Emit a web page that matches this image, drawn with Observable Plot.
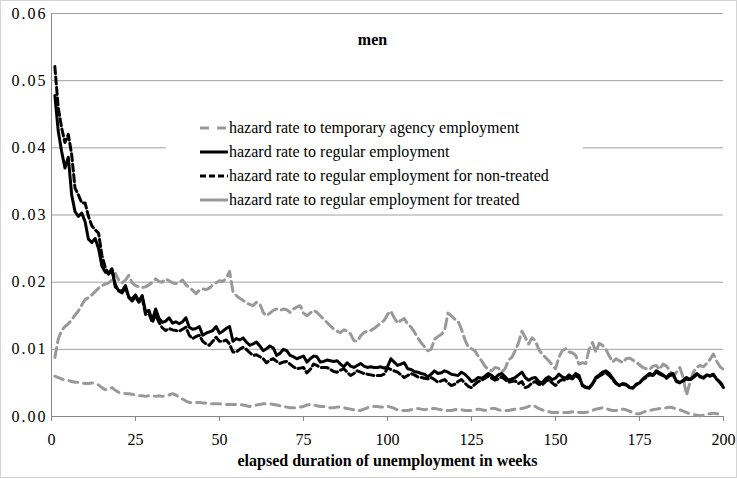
<!DOCTYPE html>
<html><head><meta charset="utf-8">
<script src="https://cdn.jsdelivr.net/npm/d3@7"></script>
<script src="https://cdn.jsdelivr.net/npm/@observablehq/plot@0.6"></script>
<style>
body{margin:0;background:#fff;}
#wrap{position:relative;width:737px;height:478px;font-family:"Liberation Serif","Times New Roman",serif;overflow:hidden}
#frame{position:absolute;left:0;top:0;width:735px;height:476px;border:1px solid #d4d4d4;pointer-events:none}
#legend{position:absolute;left:166px;top:110px;width:417px;height:100px;background:#fff;font-size:16px;color:#000}
.row{position:absolute;left:34px;height:24px;display:flex;align-items:center;white-space:nowrap}
.row svg{display:block;margin-right:1px}
g[aria-label="y-axis tick label"] text{letter-spacing:2px}
</style></head>
<body>
<div id="wrap"><div id="chart"></div><div id="legend"></div><div id="frame"></div></div>
<script>
const xTicks = [0, 25, 50, 75, 100, 125, 150, 175, 200];
const yTicks = [0, 0.01, 0.02, 0.03, 0.04, 0.05, 0.06];
const title = "men";
const xLabel = "elapsed duration of unemployment in weeks";
const seriesNames = [
  "hazard rate to temporary agency employment",
  "hazard rate to regular employment",
  "hazard rate to regular employment for non-treated",
  "hazard rate to regular employment for treated"
];
const weeks = d3.range(1, 201);

const tempAgency = [
0.0088,0.0115,0.0128,0.0134,0.0138,0.0144,0.0151,0.0157,0.0166,0.0174,
0.0177,0.0181,0.0186,0.0191,0.0195,0.0197,0.0199,0.0203,0.0213,0.0203,
0.0199,0.0203,0.0210,0.0199,0.0195,0.0193,0.0192,0.0193,0.0196,0.0200,
0.0205,0.0201,0.0200,0.0205,0.0202,0.0199,0.0198,0.0200,0.0203,0.0196,
0.0192,0.0188,0.0183,0.0188,0.0190,0.0189,0.0191,0.0196,0.0199,0.0202,
0.0201,0.0206,0.0216,0.0186,0.0180,0.0176,0.0173,0.0169,0.0167,0.0165,
0.0170,0.0168,0.0155,0.0150,0.0154,0.0158,0.0160,0.0158,0.0160,0.0159,
0.0155,0.0160,0.0163,0.0165,0.0154,0.0150,0.0154,0.0158,0.0155,0.0150,
0.0145,0.0140,0.0135,0.0130,0.0127,0.0125,0.0129,0.0127,0.0123,0.0113,
0.0112,0.0120,0.0125,0.0127,0.0128,0.0131,0.0135,0.0139,0.0143,0.0152,
0.0157,0.0147,0.0139,0.0143,0.0146,0.0138,0.0133,0.0126,0.0117,0.0110,
0.0104,0.0098,0.0100,0.0115,0.0119,0.0122,0.0128,0.0154,0.0150,0.0145,
0.0142,0.0130,0.0115,0.0104,0.0101,0.0098,0.0090,0.0083,0.0075,0.0070,
0.0068,0.0073,0.0072,0.0066,0.0071,0.0084,0.0088,0.0098,0.0110,0.0127,
0.0118,0.0108,0.0117,0.0113,0.0100,0.0093,0.0088,0.0083,0.0077,0.0071,
0.0088,0.0098,0.0101,0.0096,0.0095,0.0091,0.0078,0.0080,0.0079,0.0100,
0.0110,0.0096,0.0109,0.0106,0.0100,0.0090,0.0081,0.0086,0.0083,0.0080,
0.0086,0.0087,0.0084,0.0081,0.0077,0.0073,0.0071,0.0070,0.0075,0.0076,
0.0070,0.0078,0.0075,0.0069,0.0060,0.0066,0.0073,0.0058,0.0032,0.0050,
0.0066,0.0073,0.0076,0.0074,0.0079,0.0085,0.0093,0.0082,0.0074,0.0070
];

const regular = [
0.0478,0.0425,0.0395,0.0370,0.0386,0.0330,0.0305,0.0298,0.0303,0.0290,
0.0264,0.0259,0.0265,0.0250,0.0224,0.0215,0.0213,0.0220,0.0193,0.0188,
0.0186,0.0195,0.0178,0.0175,0.0181,0.0172,0.0180,0.0156,0.0158,0.0143,
0.0160,0.0146,0.0140,0.0142,0.0147,0.0139,0.0141,0.0138,0.0141,0.0147,
0.0133,0.0130,0.0131,0.0134,0.0121,0.0124,0.0126,0.0128,0.0134,0.0124,
0.0127,0.0131,0.0134,0.0112,0.0116,0.0114,0.0117,0.0111,0.0106,0.0108,
0.0111,0.0105,0.0098,0.0101,0.0105,0.0102,0.0091,0.0094,0.0100,0.0098,
0.0091,0.0089,0.0086,0.0088,0.0090,0.0081,0.0086,0.0090,0.0089,0.0081,
0.0082,0.0084,0.0083,0.0082,0.0083,0.0078,0.0074,0.0080,0.0075,0.0073,
0.0076,0.0079,0.0075,0.0073,0.0074,0.0073,0.0073,0.0074,0.0072,0.0074,
0.0086,0.0081,0.0076,0.0078,0.0080,0.0071,0.0070,0.0067,0.0066,0.0064,
0.0063,0.0059,0.0063,0.0068,0.0064,0.0065,0.0068,0.0066,0.0063,0.0062,
0.0061,0.0066,0.0063,0.0058,0.0052,0.0054,0.0058,0.0057,0.0060,0.0064,
0.0061,0.0057,0.0062,0.0064,0.0059,0.0054,0.0056,0.0058,0.0062,0.0066,
0.0058,0.0054,0.0057,0.0058,0.0052,0.0050,0.0056,0.0059,0.0055,0.0057,
0.0063,0.0059,0.0057,0.0062,0.0058,0.0064,0.0061,0.0046,0.0043,0.0042,
0.0048,0.0058,0.0062,0.0066,0.0068,0.0064,0.0057,0.0050,0.0046,0.0049,
0.0048,0.0043,0.0042,0.0048,0.0050,0.0056,0.0060,0.0064,0.0062,0.0068,
0.0065,0.0062,0.0058,0.0063,0.0064,0.0052,0.0050,0.0054,0.0058,0.0055,
0.0059,0.0064,0.0060,0.0058,0.0062,0.0061,0.0063,0.0055,0.0050,0.0043
];

const nonTreated = [
0.0521,0.0460,0.0430,0.0408,0.0420,0.0390,0.0340,0.0330,0.0318,0.0318,
0.0298,0.0284,0.0278,0.0273,0.0240,0.0222,0.0212,0.0218,0.0196,0.0187,
0.0184,0.0192,0.0177,0.0172,0.0178,0.0170,0.0176,0.0152,0.0153,0.0140,
0.0152,0.0140,0.0132,0.0128,0.0131,0.0129,0.0128,0.0127,0.0130,0.0133,
0.0121,0.0116,0.0119,0.0121,0.0112,0.0108,0.0106,0.0112,0.0118,0.0112,
0.0112,0.0114,0.0108,0.0096,0.0096,0.0100,0.0103,0.0100,0.0095,0.0091,
0.0092,0.0089,0.0086,0.0080,0.0084,0.0086,0.0082,0.0079,0.0081,0.0082,
0.0078,0.0074,0.0071,0.0072,0.0073,0.0065,0.0070,0.0078,0.0076,0.0073,
0.0073,0.0073,0.0070,0.0067,0.0066,0.0069,0.0071,0.0066,0.0061,0.0064,
0.0068,0.0066,0.0064,0.0063,0.0062,0.0061,0.0061,0.0061,0.0063,0.0072,
0.0070,0.0068,0.0066,0.0062,0.0058,0.0061,0.0064,0.0062,0.0059,0.0058,
0.0057,0.0056,0.0058,0.0055,0.0051,0.0053,0.0055,0.0050,0.0046,0.0048,
0.0052,0.0055,0.0050,0.0045,0.0043,0.0048,0.0052,0.0054,0.0057,0.0060,
0.0057,0.0054,0.0056,0.0059,0.0055,0.0051,0.0052,0.0053,0.0049,0.0052,
0.0043,0.0045,0.0050,0.0052,0.0048,0.0047,0.0052,0.0055,0.0050,0.0046,
0.0052,0.0055,0.0054,0.0058,0.0056,0.0060,0.0058,0.0047,0.0044,0.0043,
0.0049,0.0056,0.0060,0.0063,0.0065,0.0061,0.0055,0.0049,0.0046,0.0048,
0.0047,0.0044,0.0043,0.0047,0.0050,0.0055,0.0058,0.0062,0.0061,0.0066,
0.0063,0.0061,0.0057,0.0061,0.0062,0.0053,0.0051,0.0053,0.0056,0.0054,
0.0058,0.0062,0.0059,0.0057,0.0061,0.0060,0.0062,0.0056,0.0051,0.0045
];

const treated = [
0.0060,0.0058,0.0056,0.0054,0.0054,0.0052,0.0051,0.0051,0.0050,0.0049,
0.0049,0.0050,0.0049,0.0047,0.0043,0.0040,0.0041,0.0043,0.0039,0.0036,
0.0035,0.0034,0.0034,0.0033,0.0032,0.0031,0.0031,0.0030,0.0031,0.0031,
0.0030,0.0031,0.0030,0.0031,0.0032,0.0034,0.0032,0.0029,0.0026,0.0023,
0.0021,0.0021,0.0021,0.0021,0.0020,0.0020,0.0019,0.0019,0.0019,0.0019,
0.0018,0.0018,0.0018,0.0018,0.0018,0.0018,0.0017,0.0016,0.0015,0.0016,
0.0017,0.0018,0.0019,0.0019,0.0019,0.0018,0.0017,0.0016,0.0015,0.0014,
0.0013,0.0013,0.0013,0.0014,0.0015,0.0017,0.0018,0.0017,0.0016,0.0015,
0.0015,0.0014,0.0013,0.0013,0.0014,0.0014,0.0013,0.0012,0.0011,0.0010,
0.0009,0.0009,0.0011,0.0013,0.0015,0.0015,0.0015,0.0014,0.0014,0.0015,
0.0014,0.0012,0.0010,0.0009,0.0009,0.0009,0.0010,0.0011,0.0012,0.0011,
0.0010,0.0011,0.0012,0.0012,0.0011,0.0010,0.0009,0.0009,0.0009,0.0010,
0.0011,0.0010,0.0009,0.0009,0.0009,0.0010,0.0011,0.0010,0.0009,0.0010,
0.0012,0.0012,0.0010,0.0009,0.0009,0.0009,0.0010,0.0011,0.0012,0.0012,
0.0013,0.0015,0.0017,0.0015,0.0012,0.0010,0.0008,0.0007,0.0006,0.0006,
0.0006,0.0006,0.0006,0.0006,0.0007,0.0007,0.0006,0.0006,0.0006,0.0007,
0.0009,0.0011,0.0012,0.0013,0.0012,0.0010,0.0009,0.0009,0.0010,0.0011,
0.0010,0.0008,0.0006,0.0004,0.0004,0.0006,0.0008,0.0009,0.0010,0.0011,
0.0012,0.0012,0.0013,0.0014,0.0013,0.0011,0.0010,0.0008,0.0006,0.0004,
0.0003,0.0002,0.0001,0.0002,0.0004,0.0004,0.0005,0.0004,0.0004,0.0003
];

const gray = "#999999";
// styles of the drawn curves
const lineStyles = [
  {stroke: gray, strokeWidth: 3, strokeDasharray: "10,5"},
  {stroke: "#000", strokeWidth: 3},
  {stroke: "#000", strokeWidth: 3, strokeDasharray: "7,3.5"},
  {stroke: gray, strokeWidth: 3, strokeDasharray: "9,6"}
];
// styles of the legend swatches (as printed in the original)
const swatchStyles = [
  {stroke: gray, strokeWidth: 3, strokeDasharray: "9,8"},
  {stroke: "#000", strokeWidth: 3},
  {stroke: "#000", strokeWidth: 3, strokeDasharray: "6,3"},
  {stroke: gray, strokeWidth: 3}
];
const allSeries = [tempAgency, regular, nonTreated, treated];
const tables = allSeries.map(vals => weeks.map((w, i) => ({week: w, rate: vals[i]})));

const chart = Plot.plot({
  width: 737, height: 478,
  marginLeft: 51, marginRight: 14, marginTop: 13, marginBottom: 62,
  style: {fontFamily: '"Liberation Serif", "Times New Roman", serif', fontSize: "16px", color: "#000", background: "transparent"},
  x: {domain: [0, 200], label: null},
  y: {domain: [0, 0.06], label: null},
  marks: [
    Plot.gridY(yTicks.slice(1), {stroke: "#a0a0a0", strokeOpacity: 1}),
    Plot.ruleX([0], {stroke: "#888"}),
    Plot.ruleY([0], {stroke: "#888"}),
    Plot.axisX(xTicks, {tickSize: 5, tickPadding: 12, stroke: "#888", fill: "#000", label: null, fontSize: 16}),
    Plot.axisY(yTicks, {tickSize: 0, tickPadding: 4, tickFormat: d => d.toFixed(2), label: null, fontSize: 16, fill: "#000"}),
    ...tables.map((t, i) => Plot.line(t, {x: "week", y: "rate", ...lineStyles[i], strokeLinejoin: "round"})),
    Plot.text([title], {frameAnchor: "top", dx: -15, dy: 20, fontWeight: "bold", fontSize: 16}),
    Plot.text([xLabel], {frameAnchor: "bottom", dy: 49, fontWeight: "bold", fontSize: 16})
  ]
});
document.getElementById("chart").appendChild(chart);

const legend = document.getElementById("legend");
seriesNames.forEach((name, i) => {
  const row = document.createElement("div");
  row.className = "row";
  row.style.top = (6 + i * 24) + "px";
  const s = swatchStyles[i];
  row.innerHTML = `<svg width="28" height="10"><line x1="0" x2="28" y1="5" y2="5" stroke="${s.stroke}" stroke-width="${s.strokeWidth}" ${s.strokeDasharray ? `stroke-dasharray="${s.strokeDasharray}"` : ""}/></svg><span>${name}</span>`;
  legend.appendChild(row);
});
</script>
</body></html>
